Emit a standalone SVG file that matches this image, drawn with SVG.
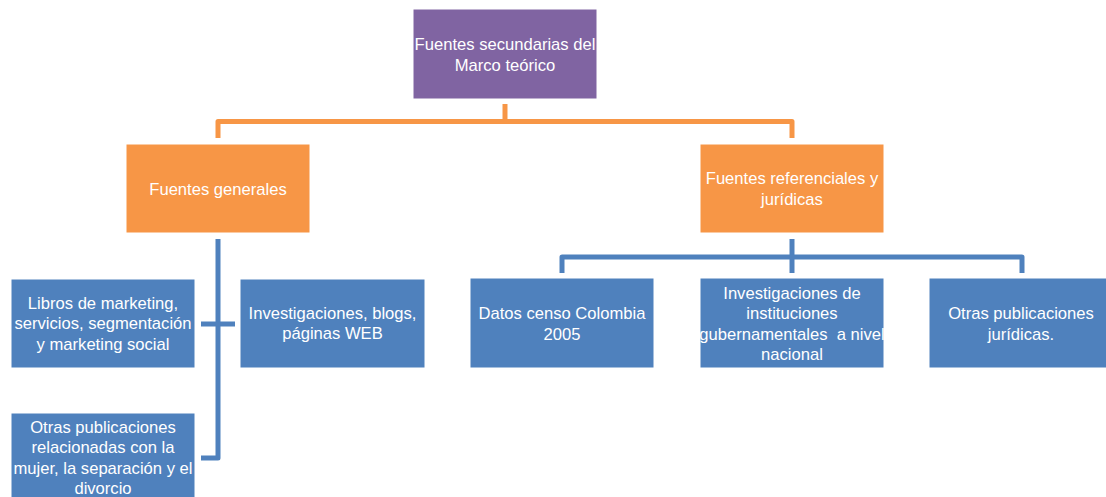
<svg xmlns="http://www.w3.org/2000/svg" width="1106" height="497" viewBox="0 0 1106 497">
<style>
.t{font-family:"Liberation Sans",Arial,sans-serif;font-size:16.6px;fill:#fff;text-anchor:middle}
.purple{fill:#8064A2;stroke:#fff;stroke-width:1}
.orange{fill:#F79646;stroke:#fff;stroke-width:1}
.blue{fill:#4F81BD;stroke:#fff;stroke-width:1}
.co{fill:none;stroke:#F79646;stroke-width:5;stroke-linejoin:round}
.cb{fill:none;stroke:#4F81BD;stroke-width:5;stroke-linejoin:round}
</style>
<rect width="1106" height="497" fill="#fff"/>
<g id="connectors">
<path class="co" d="M505,104 V121.5"/>
<path class="co" d="M218,138 V121.5 H792 V138"/>
<path class="cb" d="M218,239 V458 H201"/>
<path class="cb" d="M201,324 H235"/>
<path class="cb" d="M792,239 V273"/>
<path class="cb" d="M562,273 V257 H1022 V273"/>
</g>
<g id="n-root">
<rect class="purple" x="413" y="9" width="184" height="90"/>
<text class="t" x="505" y="49.5">Fuentes secundarias del</text>
<text class="t" x="505" y="70.5">Marco teórico</text>
</g>
<g id="n-generales">
<rect class="orange" x="126" y="144" width="184" height="89"/>
<text class="t" x="218" y="194.5">Fuentes generales</text>
</g>
<g id="n-referenciales">
<rect class="orange" x="700" y="144" width="184" height="89"/>
<text class="t" x="792" y="184">Fuentes referenciales y</text>
<text class="t" x="792" y="205">jurídicas</text>
</g>
<g id="n-libros">
<rect class="blue" x="11" y="279" width="184" height="89"/>
<text class="t" x="103" y="308.5">Libros de marketing,</text>
<text class="t" x="103" y="329">servicios, segmentación</text>
<text class="t" x="103" y="349.5">y marketing social</text>
</g>
<g id="n-investigaciones">
<rect class="blue" x="240" y="279" width="185" height="89"/>
<text class="t" x="332.5" y="318.5">Investigaciones, blogs,</text>
<text class="t" x="332.5" y="339">páginas WEB</text>
</g>
<g id="n-otras">
<rect class="blue" x="11" y="413" width="184" height="90"/>
<text class="t" x="103" y="432.5">Otras publicaciones</text>
<text class="t" x="103" y="453">relacionadas con la</text>
<text class="t" x="103" y="473.5">mujer, la separación y el</text>
<text class="t" x="103" y="494">divorcio</text>
</g>
<g id="n-datos">
<rect class="blue" x="470" y="278" width="184" height="90"/>
<text class="t" x="562" y="319">Datos censo Colombia</text>
<text class="t" x="562" y="339.5">2005</text>
</g>
<g id="n-instituciones">
<rect class="blue" x="700" y="278" width="184" height="90"/>
<text class="t" x="792" y="298.5">Investigaciones de</text>
<text class="t" x="792" y="319">instituciones</text>
<text class="t" x="792" y="339.5" style="white-space:pre">gubernamentales  a nivel</text>
<text class="t" x="792" y="360">nacional</text>
</g>
<g id="n-juridicas">
<rect class="blue" x="929" y="278" width="184" height="90"/>
<text class="t" x="1021" y="319">Otras publicaciones</text>
<text class="t" x="1021" y="339.5">jurídicas.</text>
</g>
</svg>
